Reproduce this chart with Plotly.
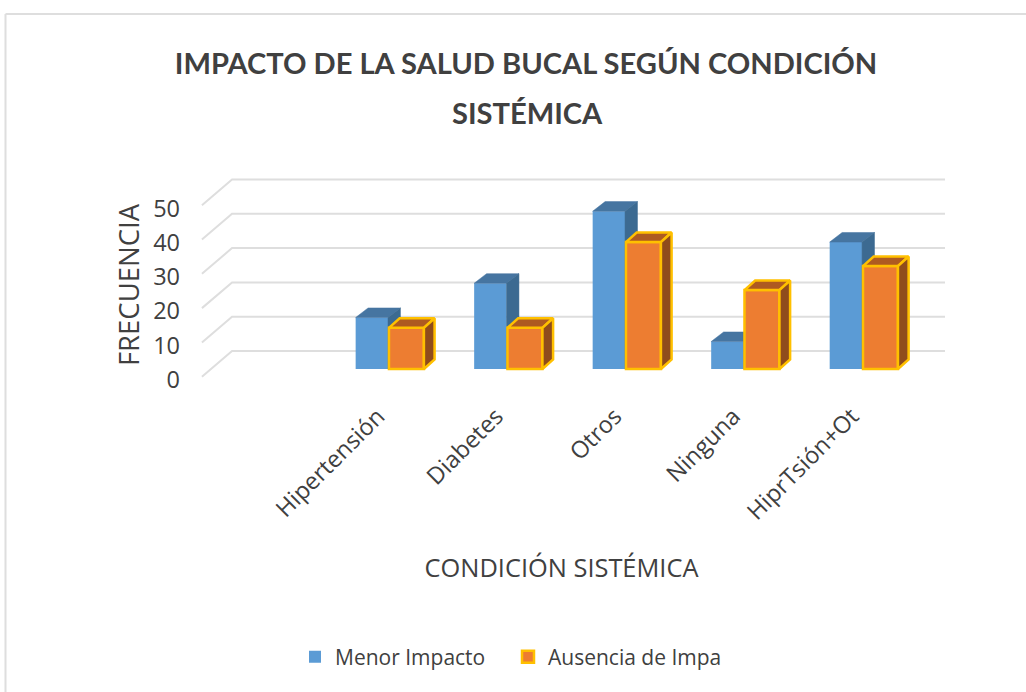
"""Impacto de la salud bucal: 3D-style grouped bars drawn on overlaid cartesian axes."""

import plotly.graph_objects as go

categories = ['Hipertensión', 'Diabetes', 'Otros', 'Ninguna', 'HiprTsión+Ot']
menor_impacto = [15, 25, 46, 8, 37]
ausencia_impacto = [12, 12, 37, 23, 30]
y_ticks = [0, 10, 20, 30, 40, 50]

TEXT = '#404040'
GRID = '#DEDEDE'
FONT = 'Open Sans'

# fake perspective, in data units
WALL_FRONT = -2.25
WALL_BACK = 5.25
WALL_X = [-1.57, -1.316, 4.70]
BAR_DY = 2.8

# tick labels sit a little off their gridline ends
Y_LABEL_SHIFT = -0.9
X_LABEL_SHIFT = -0.085

positions = list(range(len(categories)))


def top_and_side(values, left, width, dx):
    """Outlines of the top and side faces of each bar, None separated."""
    top_x, top_y, side_x, side_y = [], [], [], []
    for p, v in zip(positions, values):
        x0, x1 = p + left, p + left + width
        top_x += [x0, x1, x1 + dx, x0 + dx, x0, None]
        top_y += [v, v, v + BAR_DY, v + BAR_DY, v, None]
        side_x += [x1, x1, x1 + dx, x1 + dx, x1, None]
        side_y += [0, v, v + BAR_DY, BAR_DY, 0, None]
    return top_x, top_y, side_x, side_y


def add_series(fig, values, name, left, width, dx, colors, border, axes):
    front, top, side = colors
    line = dict(color=border, width=2.5) if border else dict(width=0)
    fig.add_trace(go.Bar(
        x=positions, y=values, name=name, width=width, offset=left,
        marker=dict(color=front, line=line),
        xaxis=axes[0], yaxis=axes[1],
    ))
    top_x, top_y, side_x, side_y = top_and_side(values, left, width, dx)
    for xs, ys, color in [(top_x, top_y, top), (side_x, side_y, side)]:
        fig.add_trace(go.Scatter(
            x=xs, y=ys, mode='lines', fill='toself', fillcolor=color,
            line=dict(color=border or color, width=2.5 if border else 0.5),
            showlegend=False, hoverinfo='skip',
            xaxis=axes[0], yaxis=axes[1],
        ))


fig = go.Figure()

# gridlines on the lowest axes, so every bar paints over them
grid_x, grid_y = [], []
for v in y_ticks:
    grid_x += WALL_X + [None]
    grid_y += [v + WALL_FRONT, v + WALL_BACK, v + WALL_BACK, None]
fig.add_trace(go.Scatter(
    x=grid_x, y=grid_y, mode='lines',
    line=dict(color=GRID, width=2),
    showlegend=False, hoverinfo='skip',
))

add_series(fig, menor_impacto, 'Menor Impacto', -0.273, 0.273, 0.105,
           ('#5B9BD5', '#4675A1', '#3C6A91'), None, ('x2', 'y2'))
add_series(fig, ausencia_impacto, 'Ausencia de Impacto', 0.008, 0.295, 0.09,
           ('#ED7D31', '#AE5A21', '#8F4C1C'), '#FFC000', ('x3', 'y3'))

x_range = [-1.772, 4.70]
y_range = [-7.58, 56.56]

fig.update_layout(
    width=1026, height=692,
    margin=dict(l=0, r=0, t=0, b=0),
    paper_bgcolor='white', plot_bgcolor='rgba(0,0,0,0)',
    font=dict(family=FONT, color=TEXT),
    title=dict(
        text='IMPACTO DE LA SALUD BUCAL SEGÚN CONDICIÓN',
        x=526 / 1026, xanchor='center', y=1 - 64 / 692, yanchor='middle',
        font=dict(family='Lato', size=29.1, color=TEXT, weight='bold'),
    ),
    xaxis=dict(
        domain=[178 / 1026, 945 / 1026], range=x_range,
        tickvals=[p + X_LABEL_SHIFT for p in positions], ticktext=categories, tickangle=-45,
        tickfont=dict(size=23.5), ticklabelstandoff=2,
        showgrid=False, zeroline=False, showline=False,
        ticks='', title=dict(text='CONDICIÓN SISTÉMICA', font=dict(size=25.4), standoff=33),
    ),
    yaxis=dict(
        domain=[1 - 395 / 692, 1 - 175 / 692], range=y_range,
        tickvals=[v + WALL_FRONT + Y_LABEL_SHIFT for v in y_ticks],
        ticktext=[str(v) for v in y_ticks],
        tickfont=dict(size=23.5), ticklabelstandoff=-3,
        showgrid=False, zeroline=False, showline=False,
        ticks='', title=dict(text='FRECUENCIA', font=dict(size=27.5), standoff=5),
    ),
    xaxis2=dict(overlaying='x', matches='x', visible=False),
    yaxis2=dict(overlaying='y', matches='y', visible=False),
    xaxis3=dict(overlaying='x', matches='x', visible=False),
    yaxis3=dict(overlaying='y', matches='y', visible=False),
    legend=dict(
        orientation='h', x=295 / 1026, xanchor='left', y=1 - 657 / 692, yanchor='middle',
        font=dict(size=21), bgcolor='rgba(0,0,0,0)',
        entrywidth=168, entrywidthmode='pixels',
    ),
    annotations=[dict(
        text='SISTÉMICA', xref='paper', yref='paper', x=527 / 1026, y=1 - 112 / 692,
        xanchor='center', yanchor='middle', showarrow=False,
        font=dict(family='Lato', size=29.1, color=TEXT, weight='bold'),
    )],
    shapes=[dict(
        type='line', xref='paper', yref='paper',
        x0=5.5 / 1026, x1=5.5 / 1026, y0=0, y1=1 - 14 / 692,
        line=dict(color='#DEDEDE', width=2), layer='below',
    ), dict(
        type='line', xref='paper', yref='paper',
        x0=5.5 / 1026, x1=1, y0=1 - 14 / 692, y1=1 - 14 / 692,
        line=dict(color='#DEDEDE', width=2), layer='below',
    )],
)

# drop the browser's default body margin so the page fills the window exactly
fig.write_html("out.html", config={'displayModeBar': False},
               post_script="document.body.style.margin = '0';")
